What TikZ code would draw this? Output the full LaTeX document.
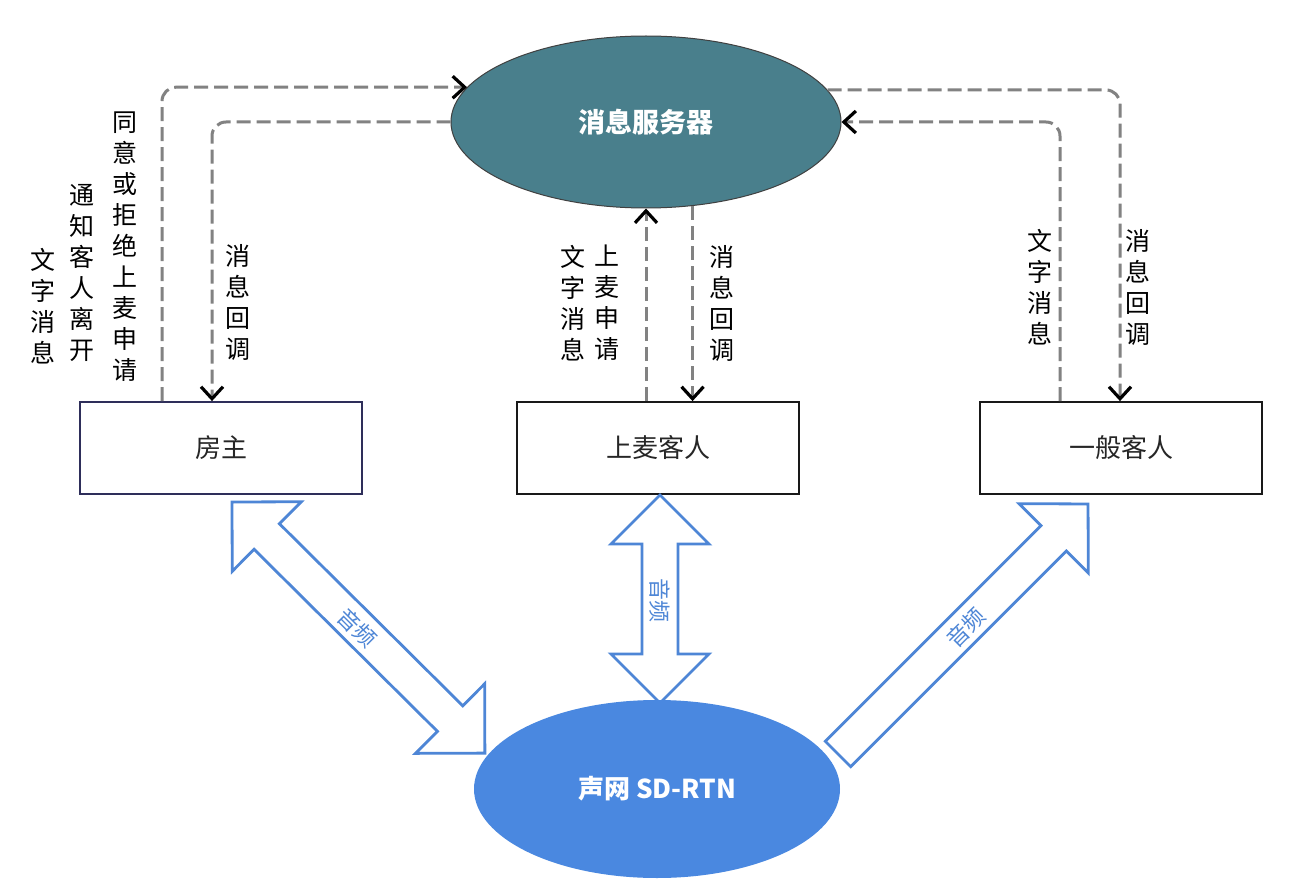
\documentclass[tikz,border=0pt]{standalone}
\usepackage{fontspec}
\newfontfamily\cjk{Noto Sans CJK SC}
\usetikzlibrary{arrows.meta,calc,shapes.geometric}
\definecolor{tealfill}{RGB}{73,127,140}
\definecolor{bluefill}{RGB}{74,136,224}
\definecolor{ablue}{RGB}{78,134,214}
\definecolor{dgray}{RGB}{130,130,130}
\definecolor{navy}{RGB}{46,46,90}
\begin{document}
\begin{tikzpicture}[x=1pt,y=-1pt,
  box/.style={draw=black!90, line width=1.8pt, minimum width=282pt, minimum height=92pt, inner sep=0pt, font=\cjk\fontsize{26}{30}\selectfont, text=black!85},
  vtext/.style={align=center, inner sep=0pt, font=\cjk\fontsize{25}{31}\selectfont, text=black},
  dline/.style={draw=dgray, line width=3pt, dash pattern=on 14pt off 6pt, rounded corners=14pt, -{Straight Barb[length=12pt,width=22pt,line width=3.2pt,color=black]}},
  barrow/.style={draw=ablue, line width=2.8pt, fill=white, line join=miter},
  blabel/.style={inner sep=0pt, font=\cjk\fontsize{22}{24}\selectfont, text=ablue},
]
\useasboundingbox (0,0) rectangle (1312,896);
\fill[white] (0,0) rectangle (1312,896);

% boxes
\node[box, draw=navy] (hz) at (221,448) {房主};
\node[box] (up) at (658,448) {上麦客人};
\node[box] (gen) at (1121,448) {一般客人};

% message server
\node[ellipse, draw=black!75, line width=1pt, fill=tealfill, minimum width=390pt, minimum height=172pt, inner sep=0pt, text=white, font=\cjk\bfseries\fontsize{27}{30}\selectfont] (msg) at (646,122) {消息服务器};

% dashed connectors
\draw[dline] ($(hz.north)+(-59,0)$) |- (msg.169);
\draw[dline] (msg.180) -| ($(hz.north)+(-9,0)$);
\draw[dline] (up.north -| msg.south) -- (msg.south);
\draw[dline] (msg.-61) -- (msg.-61 |- up.north);
\draw[dline] ($(gen.north)+(-61,0)$) |- (msg.0);
\draw[dline] (msg.10) -| ($(gen.north)+(-1,0)$);

% vertical labels
\node[vtext] (l1) at (125,247) {同\\意\\或\\拒\\绝\\上\\麦\\申\\请};
\node[vtext] (l2) at (82,273) {通\\知\\客\\人\\离\\开};
\node[vtext] (l3) at (43,306) {文\\字\\消\\息};
\node[vtext] (l4) at (238,302) {消\\息\\回\\调};
\node[vtext] (m1) at (573,303) {文\\字\\消\\息};
\node[vtext] (m2) at (607,303) {上\\麦\\申\\请};
\node[vtext] (m3) at (722,303) {消\\息\\回\\调};
\node[vtext] (r1) at (1040,287) {文\\字\\消\\息};
\node[vtext] (r2) at (1138,287) {消\\息\\回\\调};

% block arrows (audio)
\begin{scope}[shift={(232,502)}, rotate=-44.8]
  \draw[barrow] (0,0) -- (49,49) -- (49,18) -- (307.4,18) -- (307.4,49) -- (356.4,0)
    -- (307.4,-49) -- (307.4,-18) -- (49,-18) -- (49,-49) -- cycle;
\end{scope}
\begin{scope}[shift={(660,495)}, rotate=-90]
  \draw[barrow] (0,0) -- (49,49) -- (49,18) -- (159,18) -- (159,49) -- (208,0)
    -- (159,-49) -- (159,-18) -- (49,-18) -- (49,-49) -- cycle;
\end{scope}
\begin{scope}[shift={(838,754)}, rotate=45]
  \draw[barrow] (0,18) -- (305,18) -- (305,49) -- (353.6,0) -- (305,-49) -- (305,-18)
    -- (0,-18) -- cycle;
\end{scope}
\node[blabel, rotate=-45] (a1) at (357,628) {音频};
\node[blabel, rotate=-90] (a2) at (660,600) {音频};
\node[blabel, rotate=45] (a3) at (966,628) {音频};

% SD-RTN
\node[ellipse, fill=bluefill, minimum width=366pt, minimum height=178pt, inner sep=0pt, text=white, font=\cjk\bfseries\fontsize{26}{30}\selectfont] (rtn) at (657,789) {声网 SD-RTN};
\end{tikzpicture}
\end{document}
